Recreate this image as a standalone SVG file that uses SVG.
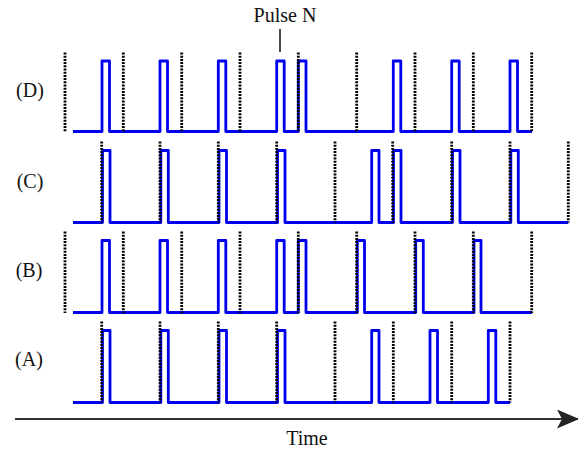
<svg xmlns="http://www.w3.org/2000/svg" width="578" height="449" viewBox="0 0 578 449">
  <style>
    .lbl { font-family: "Liberation Serif", "Times New Roman", serif; font-size: 20px; fill: #111; }
    .clk { stroke: #000; stroke-width: 2.8; stroke-dasharray: 2 1.2; fill: none; }
    .sig { stroke: #0000ee; stroke-width: 2.8; fill: none; stroke-linejoin: round; }
  </style>
  <defs>
    <marker id="arrow" viewBox="0 0 22 19" refX="21" refY="9.5" markerWidth="22" markerHeight="19" markerUnits="userSpaceOnUse" orient="auto">
      <path d="M0,0 L22,9.5 L0,19 L5,9.5 Z" fill="#222"/>
    </marker>
  </defs>

  <!-- row labels -->
  <g id="label-D"><text class="lbl" x="30" y="97" text-anchor="middle">(D)</text></g>
  <g id="label-C"><text class="lbl" x="30" y="188" text-anchor="middle">(C)</text></g>
  <g id="label-B"><text class="lbl" x="29" y="277" text-anchor="middle">(B)</text></g>
  <g id="label-A"><text class="lbl" x="29" y="366" text-anchor="middle">(A)</text></g>

  <!-- marker for pulse N -->
  <g id="pulse-n">
    <text class="lbl" x="285" y="22" text-anchor="middle">Pulse N</text>
    <line x1="280" y1="29" x2="280" y2="52" stroke="#111" stroke-width="1.5"/>
  </g>

  <!-- trace D -->
  <g id="trace-D">
    <path class="sig" d="M73,131.5 H102 V61 H109.5 V131.5 H160 V61 H167.5 V131.5 H218.3 V61 H225.8 V131.5 H276.7 V61 H284.2 V131.5 H298.3 V61 H306 V131.5 H393.3 V61 H400.8 V131.5 H451.7 V61 H459.2 V131.5 H510 V61 H517.5 V131.5 H532"/>
    <path class="clk" d="M65,52.5 V132 M123.3,52.5 V132 M181.7,52.5 V132 M240,52.5 V132 M298.3,52.5 V132 M356.7,52.5 V132 M415,52.5 V132 M473.3,52.5 V132 M531.7,52.5 V132"/>
  </g>

  <!-- trace C -->
  <g id="trace-C">
    <path class="sig" d="M73,222.5 H102.5 V150.5 H110 V222.5 H160.8 V150.5 H168.3 V222.5 H219 V150.5 H226.5 V222.5 H277.5 V150.5 H285 V222.5 H371.7 V150.5 H379 V222.5 H393.5 V150.5 H401 V222.5 H452.5 V150.5 H460 V222.5 H510.8 V150.5 H518.3 V222.5 H568.3"/>
    <path class="clk" d="M101.7,141.5 V222.5 M160,141.5 V222.5 M218.3,141.5 V222.5 M276.7,141.5 V222.5 M335,141.5 V222.5 M392.7,141.5 V222.5 M451.7,141.5 V222.5 M510,141.5 V222.5 M568.3,141.5 V222.5"/>
  </g>

  <!-- trace B -->
  <g id="trace-B">
    <path class="sig" d="M73,312.5 H102 V240.5 H109.5 V312.5 H160 V240.5 H167.5 V312.5 H218.3 V240.5 H225.8 V312.5 H276.7 V240.5 H284.2 V312.5 H298.3 V240.5 H306 V312.5 H357.3 V240.5 H364.5 V312.5 H415.7 V240.5 H423.3 V312.5 H474 V240.5 H481 V312.5 H532"/>
    <path class="clk" d="M65,231.5 V313 M123.3,231.5 V313 M181.7,231.5 V313 M240,231.5 V313 M298.3,231.5 V313 M356.7,231.5 V313 M415,231.5 V313 M473.3,231.5 V313 M531.7,231.5 V313"/>
  </g>

  <!-- trace A -->
  <g id="trace-A">
    <path class="sig" d="M73,402.5 H102.5 V330.5 H110 V402.5 H160.8 V330.5 H168.3 V402.5 H219 V330.5 H226.5 V402.5 H277.5 V330.5 H285 V402.5 H371.7 V330.5 H379 V402.5 H430 V330.5 H437.5 V402.5 H488.3 V330.5 H495.8 V402.5 H510"/>
    <path class="clk" d="M101.7,321.5 V402.5 M160,321.5 V402.5 M218.3,321.5 V402.5 M276.7,321.5 V402.5 M335,321.5 V402.5 M393.3,321.5 V402.5 M451.7,321.5 V402.5 M510,321.5 V402.5"/>
  </g>

  <!-- time axis -->
  <g id="connectors">
    <line x1="15" y1="419" x2="578" y2="419" stroke="#333" stroke-width="2.2" marker-end="url(#arrow)"/>
  </g>
  <g id="axis-label"><text class="lbl" x="307" y="445" text-anchor="middle">Time</text></g>
</svg>
